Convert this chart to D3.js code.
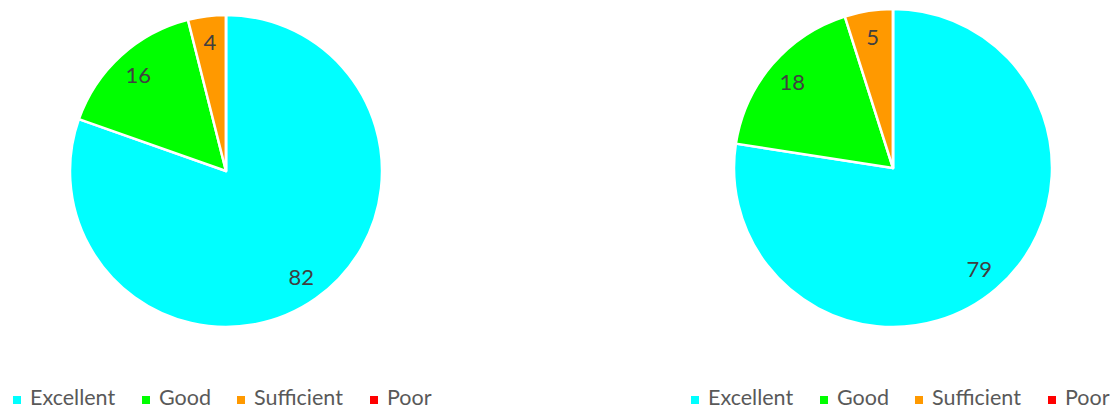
<!DOCTYPE html>
<html><head><meta charset="utf-8">
<script src="https://cdn.jsdelivr.net/npm/d3@7"></script>
<style>body{margin:0;background:#fff}svg{display:block}</style>
</head><body>
<svg id="c" width="1115" height="409"></svg>
<script>
const categories = ["Excellent", "Good", "Sufficient", "Poor"];
const seriesA = [82, 16, 4, 0];
const seriesB = [79, 18, 5, 0];
const colors = ["#00FFFF", "#00FF00", "#FF9900", "#FF0000"];

const svg = d3.select("#c");
const pie = d3.pie().sort(null).value(d => d);
const color = d3.scaleOrdinal().domain(categories).range(colors);

function drawPie(values, cx, cy, r, legendX) {
  const g = svg.append("g").attr("transform", `translate(${cx},${cy})`);
  const arcs = pie(values);
  const arc = d3.arc().innerRadius(0).outerRadius(r);
  const labelArc = d3.arc().innerRadius(r * 0.835).outerRadius(r * 0.835);
  g.selectAll("path").data(arcs).join("path")
    .attr("d", arc)
    .attr("fill", (d, i) => color(categories[i]))
    .attr("stroke", "#fff").attr("stroke-width", 2.5).attr("stroke-linejoin", "round");
  g.selectAll("text").data(arcs.filter(d => d.data > 0)).join("text")
    .attr("transform", d => `translate(${labelArc.centroid(d)})`)
    .attr("text-anchor", "middle").attr("dy", "0.36em")
    .attr("font-family", "Lato, sans-serif").attr("font-size", 22)
    .attr("fill", "#404040").text(d => d.data);

  const offs = [0, 129, 224, 357];
  const lg = svg.append("g").attr("transform", `translate(${legendX},0)`);
  const items = lg.selectAll("g").data(categories).join("g")
    .attr("transform", (d, i) => `translate(${offs[i]},0)`);
  items.append("rect").attr("x", -17).attr("y", 396).attr("width", 8).attr("height", 8)
    .attr("fill", d => color(d));
  items.append("text").attr("x", 0).attr("y", 405)
    .attr("font-family", "Lato, sans-serif").attr("font-size", 21.5)
    .attr("fill", "#595959").text(d => d);
}

drawPie(seriesA, 226, 171, 156, 30);
drawPie(seriesB, 893, 168, 159, 708);
</script>
</body></html>
